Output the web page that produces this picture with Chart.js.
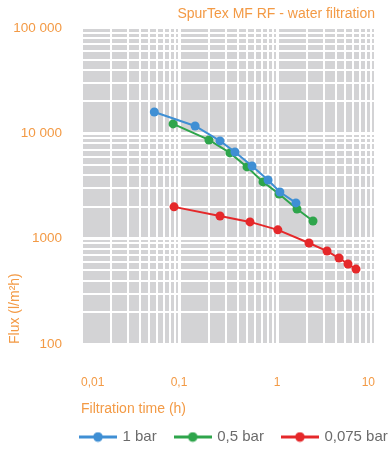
<!DOCTYPE html>
<html><head><meta charset="utf-8">
<script src="https://cdn.jsdelivr.net/npm/chart.js@4/dist/chart.umd.min.js"></script>
<style>html,body{margin:0;padding:0;background:#fff}</style>
</head><body>
<canvas id="c" width="392" height="450" style="display:block;width:392px;height:450px"></canvas>
<script>
const chartTitle = 'SpurTex MF RF - water filtration';
const xTitle = 'Filtration time (h)';
const yTitle = 'Flux (l/m²h)';
const seriesNames = ['1 bar', '0,5 bar', '0,075 bar'];
const seriesColors = ['#3F8FD4', '#2EA54B', '#E5282A'];

const timeBar1 = [0.056, 0.146, 0.262, 0.372, 0.556, 0.81, 1.07, 1.56];
const fluxBar1 = [15900, 11700, 8450, 6640, 4890, 3600, 2770, 2180];
const timeBar05 = [0.087, 0.202, 0.331, 0.494, 0.72, 1.05, 1.60, 2.33];
const fluxBar05 = [12250, 8630, 6500, 4790, 3450, 2650, 1910, 1470];
const timeBar0075 = [0.089, 0.262, 0.53, 1.02, 2.12, 3.24, 4.29, 5.30, 6.40];
const fluxBar0075 = [2000, 1640, 1440, 1210, 908, 762, 654, 574, 514];

const xTickValues = [0.01, 0.1, 1, 10];
const xTickLabels = ['0,01', '0,1', '1', '10'];
const yTickValues = [100, 1000, 10000, 100000];
const yTickLabels = ['100', '1000', '10 000', '100 000'];
const minorSteps = [1, 2, 3, 4, 5, 6, 7, 8, 9];

const ORANGE = '#F39A45';
const FONT = "'Liberation Sans', Arial, sans-serif";

function buildTicks(decades) {
  const out = [];
  for (let i = 0; i < decades.length; i++) {
    if (i === decades.length - 1) { out.push({value: decades[i], major: true}); break; }
    for (const m of minorSteps) {
      out.push({value: +(decades[i] * m).toPrecision(6), major: m === 1});
    }
  }
  return out;
}
function labelFor(values, labels, v) {
  for (let i = 0; i < values.length; i++) {
    if (Math.abs(values[i] - v) / values[i] < 1e-6) return labels[i];
  }
  return '';
}
function pts(xs, ys) { return xs.map((x, i) => ({x: x, y: ys[i]})); }

function legendIcon(color) {
  const c = document.createElement('canvas');
  c.width = 38; c.height = 11;
  const g = c.getContext('2d');
  g.strokeStyle = color; g.lineWidth = 3;
  g.beginPath(); g.moveTo(0, 5.5); g.lineTo(38, 5.5); g.stroke();
  g.fillStyle = color;
  g.beginPath(); g.arc(19, 5.5, 4.8, 0, Math.PI * 2); g.fill();
  return c;
}
const icons = seriesColors.map(legendIcon);

const seriesX = [timeBar1, timeBar05, timeBar0075];
const seriesY = [fluxBar1, fluxBar05, fluxBar0075];

const datasets = seriesNames.map((name, i) => ({
  label: name,
  data: pts(seriesX[i], seriesY[i]),
  borderColor: seriesColors[i],
  backgroundColor: seriesColors[i],
  pointBackgroundColor: seriesColors[i],
  pointBorderColor: seriesColors[i],
  pointBorderWidth: 0,
  pointRadius: 4.5,
  borderWidth: 2,
  tension: 0,
  fill: false
}));

const plotBg = {
  id: 'plotBg',
  beforeDraw(chart) {
    const a = chart.chartArea, ctx = chart.ctx;
    ctx.save();
    ctx.fillStyle = '#D3D3D5';
    ctx.fillRect(a.left, a.top, a.right - a.left, a.bottom - a.top);
    ctx.restore();
  }
};
const legendPos = {
  id: 'legendPos',
  afterLayout(chart) {
    const lg = chart.legend;
    if (!lg) return;
    const pad = lg.options.labels.padding;
    lg.left = 81 - pad;
    lg.right = 900;
    lg.top = 437 - pad - 7.5;
  }
};

new Chart(document.getElementById('c'), {
  type: 'line',
  data: {datasets: datasets},
  plugins: [plotBg, legendPos],
  options: {
    responsive: false,
    devicePixelRatio: 1,
    animation: false,
    layout: {padding: {top: 0, right: 17, bottom: 0, left: 0}},
    scales: {
      x: {
        type: 'logarithmic',
        min: xTickValues[0],
        max: xTickValues[xTickValues.length - 1],
        afterBuildTicks: (s) => { s.ticks = buildTicks(xTickValues); },
        afterFit: (s) => { s.height = 74; },
        border: {display: false},
        grid: {color: '#FFFFFF', drawTicks: true, tickLength: 31, tickColor: 'rgba(0,0,0,0)',
          lineWidth: (c) => (c.tick && c.tick.major ? 3 : 2)},
        ticks: {
          autoSkip: false, maxRotation: 0, minRotation: 0, align: 'inner', padding: 0,
          color: ORANGE, font: {family: FONT, size: 12},
          callback: (v) => labelFor(xTickValues, xTickLabels, v)
        },
        title: {display: true, text: xTitle, align: 'start', color: ORANGE,
          font: {family: FONT, size: 14}, padding: {top: 0, bottom: 0}}
      },
      y: {
        type: 'logarithmic',
        min: yTickValues[0],
        max: yTickValues[yTickValues.length - 1],
        afterBuildTicks: (s) => { s.ticks = buildTicks(yTickValues); },
        afterFit: (s) => { s.width = 81; },
        border: {display: false},
        grid: {color: '#FFFFFF', drawTicks: false, lineWidth: (c) => (c.tick && c.tick.major ? 3 : 2)},
        ticks: {
          autoSkip: false, padding: 19,
          color: ORANGE, font: {family: FONT, size: 13.5},
          callback: (v) => labelFor(yTickValues, yTickLabels, v)
        },
        title: {display: true, text: yTitle, align: 'start', color: ORANGE,
          font: {family: FONT, size: 14}, padding: {top: 7, bottom: 0}}
      }
    },
    plugins: {
      title: {display: true, text: chartTitle, align: 'end', color: ORANGE,
        font: {family: FONT, size: 14, weight: 'normal'}, padding: {top: 6, bottom: 5}},
      legend: {
        display: true, position: 'bottom', align: 'start', maxHeight: 32,
        labels: {
          usePointStyle: true, pointStyleWidth: 34, padding: 19,
          color: '#6B6B6B', font: {family: FONT, size: 15},
          generateLabels: (chart) => chart.data.datasets.map((ds, i) => ({
            text: ds.label, pointStyle: icons[i], fillStyle: ds.borderColor,
            strokeStyle: ds.borderColor, lineWidth: 0, hidden: false, datasetIndex: i,
            fontColor: '#6B6B6B'
          }))
        }
      },
      tooltip: {enabled: false}
    }
  }
});
</script>
</body></html>
